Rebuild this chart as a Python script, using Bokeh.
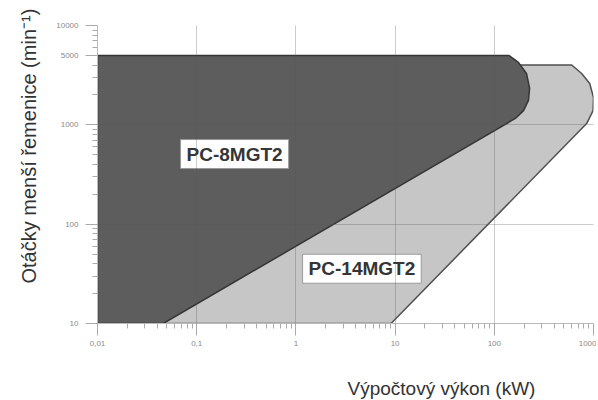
from bokeh.plotting import figure
from bokeh.models import FixedTicker, Label, Title, Range1d
from bokeh.embed import file_html
from bokeh.resources import INLINE

# PC-8MGT2 operating region (kW, rpm) boundary
pc8_kw = [0.01, 0.01, 140, 175, 211, 227, 221, 197, 163, 0.046]
pc8_rpm = [10, 5000, 5000, 4250, 3290, 2340, 1760, 1390, 1160, 10]

# PC-14MGT2 operating region
pc14_kw = [0.01, 0.01, 603, 760, 916, 1000, 990, 853, 9.1]
pc14_rpm = [10, 4000, 4000, 3290, 2610, 1880, 1390, 1030, 10]

x_ticks = [0.01, 0.1, 1, 10, 100, 1000]
x_labels = ["0,01", "0,1", "1", "10", "100", "1000"]
y_ticks = [10, 100, 1000, 5000, 10000]
y_labels = ["10", "100", "1000", "5000", "10000"]

label_names = ["PC-8MGT2", "PC-14MGT2"]
label_kw = [0.241, 4.63]
label_rpm = [508, 35.6]

x_title = "Výpočtový výkon (kW)"
y_title = "Otáčky menší řemenice (min⁻¹)"

FONT = "Liberation Sans"

p = figure(width=596, height=400, x_axis_type="log", y_axis_type="log",
           x_range=Range1d(0.01, 1000), y_range=Range1d(10, 10000),
           output_backend="svg", toolbar_location=None,
           min_border_left=97, min_border_right=3, min_border_top=25,
           min_border_bottom=77)
p.outline_line_color = None
p.background_fill_color = "white"

p.patch(pc14_kw, pc14_rpm, fill_color="#c6c6c6", line_color="#505050", line_width=1.5)
p.patch(pc8_kw, pc8_rpm, fill_color="#5d5d5d", line_color="#353535", line_width=1.5)

minor = [m * 10.0 ** e for e in range(-2, 3) for m in range(2, 10)]
yminor = [m * 10.0 ** e for e in range(1, 4) for m in range(2, 10)]
p.xaxis.ticker = FixedTicker(ticks=x_ticks, minor_ticks=minor)
p.yaxis.ticker = FixedTicker(ticks=y_ticks, minor_ticks=yminor)
p.xaxis.major_label_overrides = {t: s for t, s in zip(x_ticks, x_labels)}
p.yaxis.major_label_overrides = {t: s for t, s in zip(y_ticks, y_labels)}

p.xgrid.ticker = FixedTicker(ticks=x_ticks)
p.ygrid.ticker = FixedTicker(ticks=[10, 100, 1000, 10000])
for g in (p.xgrid, p.ygrid):
    g.grid_line_color = "#555555"
    g.grid_line_alpha = 0.3
    g.level = "overlay"

for ax in (p.xaxis, p.yaxis):
    ax.axis_line_color = "#bbbbbb"
    ax.major_tick_line_color = "#aaaaaa"
    ax.minor_tick_line_color = "#aaaaaa"
    ax.major_tick_out = 12
    ax.major_tick_in = 0
    ax.minor_tick_out = 5
    ax.minor_tick_in = 0
    ax.major_label_text_font_size = "8px"
    ax.major_label_text_color = "#8a8a8a"
    ax.major_label_text_font = FONT
p.xaxis.major_label_standoff = 5
p.yaxis.major_label_standoff = 7

for name, xk, yr in zip(label_names, label_kw, label_rpm):
    p.add_layout(Label(x=xk, y=yr, text=name, text_align="center", text_baseline="middle",
                       text_font=FONT, text_font_style="bold", text_font_size="19px",
                       text_color="#353535", background_fill_color="white",
                       border_line_color="#9a9a9a", border_line_width=1, padding=(6, 4)))

# spacer between the x axis and its title
p.add_layout(Title(text=" ", text_font_size="1px", standoff=22), "below")
p.add_layout(Title(text=x_title, align="left", offset=250, standoff=4,
                   text_font=FONT, text_font_style="normal", text_font_size="19px",
                   text_color="#333333"), "below")
p.add_layout(Title(text=y_title, align="left", offset=40, standoff=27,
                   text_font=FONT, text_font_style="normal", text_font_size="20px",
                   text_color="#333333"), "left")

open("out.html", "w").write(file_html(p, INLINE))
